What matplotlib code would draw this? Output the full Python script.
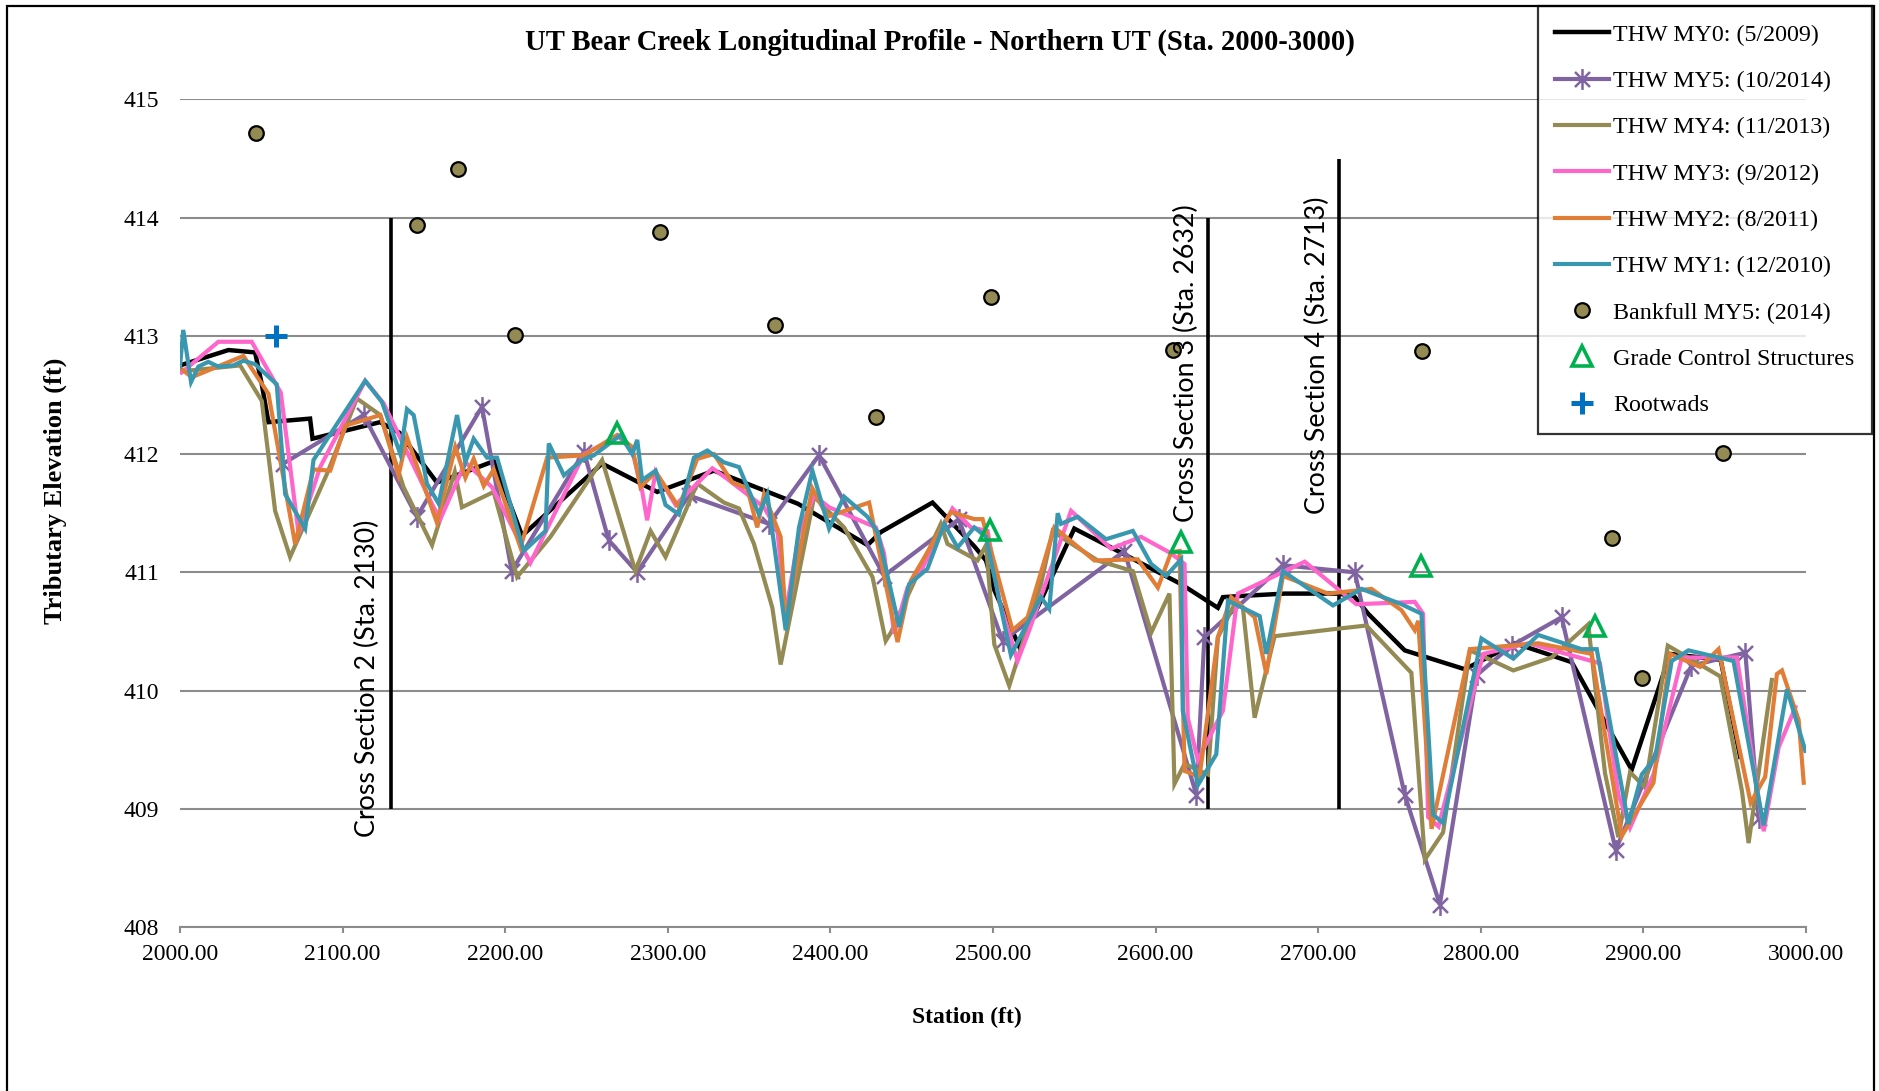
import matplotlib
matplotlib.use('Agg')
import matplotlib.pyplot as plt
from matplotlib.path import Path
from matplotlib.patches import Rectangle

# ---------------- DATA ----------------
my0_sta = [2000, 2029.8, 2046.2, 2050.3, 2054.4, 2080, 2081.5, 2123, 2135, 2158, 2170, 2193, 2210.4,
           2259.6, 2293.5, 2328.4, 2380, 2422.8, 2431, 2462.8, 2488.5, 2495.7, 2500.8, 2516.2, 2550,
           2572.6, 2615.7, 2638.3, 2641.4, 2652.7, 2679.4, 2712, 2722, 2730.7, 2753.2, 2790.2, 2821,
           2855.9, 2892.8, 2916.4, 2947.5, 2959.5]
my0_elev = [412.75, 412.88, 412.86, 412.59, 412.27, 412.30, 412.13, 412.27, 412.18, 411.76, 411.82, 411.94, 411.31,
            411.92, 411.68, 411.86, 411.58, 411.23, 411.34, 411.59, 411.22, 411.10, 410.85, 410.37, 411.37,
            411.21, 410.90, 410.70, 410.79, 410.80, 410.82, 410.82, 410.80, 410.65, 410.34, 410.18, 410.40,
            410.24, 409.33, 410.31, 410.26, 409.44]

my5_sta = [2063.6, 2112.9, 2145.7, 2185.7, 2204, 2248.4, 2263.7, 2281.2, 2313, 2362.2, 2393, 2433,
           2479, 2505.9, 2580.8, 2625, 2630, 2678.3, 2722.5, 2753.2, 2774.8, 2797.4, 2818.9, 2849.7,
           2883, 2929.5, 2962.7, 2970.9]
my5_elev = [411.92, 412.33, 411.47, 412.40, 411.01, 412.02, 411.27, 411.00, 411.65, 411.41, 411.99, 410.97,
            411.45, 410.42, 411.18, 409.12, 410.45, 411.06, 411.00, 409.12, 408.19, 410.13, 410.38, 410.62,
            408.65, 410.21, 410.32, 408.92]

my4_sta = [2001, 2037, 2050.3, 2058.5, 2067.7, 2090.3, 2108.8, 2123.2, 2137.5, 2155, 2169, 2173.4, 2192.9,
           2207.3, 2227.8, 2259.6, 2280.1, 2289.4, 2298.6, 2318.1, 2334.5, 2343.8, 2353, 2364.3, 2369.4,
           2390, 2408.4, 2425.9, 2434, 2437.2, 2467.9, 2472, 2490.5, 2495.7, 2500.8, 2510, 2529.5, 2536.7,
           2543.9, 2564.4, 2586, 2597.3, 2608.5, 2611.6, 2617.8, 2632.2, 2638.3, 2649.6, 2653.7, 2660.9,
           2673.2, 2710.1, 2729.6, 2757.3, 2765.6, 2776.8, 2793.3, 2820, 2843.6, 2866.1, 2867.2, 2876.4,
           2884.6, 2891.8, 2901, 2915, 2947.2, 2960.6, 2964.7, 2979]
my4_elev = [412.70, 412.75, 412.45, 411.52, 411.13, 411.83, 412.47, 412.33, 411.72, 411.23, 411.85, 411.55, 411.68,
            410.96, 411.30, 411.95, 411.01, 411.35, 411.13, 411.75, 411.59, 411.54, 411.24, 410.70, 410.22,
            411.64, 411.38, 410.96, 410.42, 410.49, 411.41, 411.24, 411.10, 411.23, 410.39, 410.04, 410.90, 411.35,
            411.28, 411.10, 411.01, 410.49, 410.82, 409.21, 409.38, 409.29, 410.45, 410.76, 410.70, 409.77,
            410.46, 410.52, 410.55, 410.15, 408.57, 408.80, 410.34, 410.17, 410.28, 410.56, 410.42, 409.30,
            408.76, 409.31, 409.18, 410.38, 410.12, 409.15, 408.71, 410.09]

my3_sta = [2001, 2023.6, 2044.1, 2062, 2072.9, 2086.2, 2113.9, 2125.2, 2156, 2160.1, 2175.5, 2191.9, 2215.5,
           2248.4, 2258.6, 2268.9, 2278.1, 2284.2, 2287.3, 2292.5, 2304.8, 2327.4, 2336.6, 2359.2, 2367.4,
           2372.5, 2380.7, 2390, 2399.2, 2428, 2433, 2439.2, 2447.4, 2455.6, 2475.1, 2486.4, 2496.7, 2503.9,
           2515.1, 2522.3, 2548, 2572.6, 2591.1, 2609.6, 2617.8, 2619.8, 2626, 2641.4, 2650.6, 2691.7,
           2723.5, 2759.4, 2764.5, 2767.6, 2774, 2801.5, 2829.2, 2873.3, 2884.6, 2891.8, 2906.2, 2923.6,
           2957.5, 2974, 2983.2, 2993.5]
my3_elev = [412.69, 412.95, 412.95, 412.52, 411.33, 411.89, 412.62, 412.43, 411.55, 411.45, 411.93, 411.72, 411.08,
            412.00, 412.07, 412.16, 412.03, 411.69, 411.44, 411.85, 411.57, 411.88, 411.79, 411.55, 411.35,
            410.65, 411.33, 411.65, 411.55, 411.38, 411.16, 410.48, 410.87, 411.01, 411.54, 411.38, 411.35, 410.76,
            410.25, 410.51, 411.52, 411.20, 411.30, 411.16, 411.07, 409.77, 409.41, 409.83, 410.82, 411.09,
            410.73, 410.75, 410.65, 408.93, 408.85, 410.31, 410.40, 410.23, 409.12, 408.84, 409.29, 410.28,
            410.28, 408.81, 409.52, 409.86]

my2_sta = [2001, 2007.2, 2039, 2054.4, 2070.8, 2082.1, 2092.4, 2101.6, 2123.2, 2134.4, 2139.6, 2158, 2169.3,
           2175.5, 2180.6, 2186.8, 2192.9, 2209.4, 2225.8, 2248.4, 2268.9, 2278.1, 2283.2, 2292.5, 2306.8,
           2318.1, 2328.4, 2339.7, 2348.9, 2355, 2359.2, 2369.4, 2372.5, 2388.9, 2398.2, 2423.8, 2441.3,
           2449.5, 2474.1, 2488.5, 2493.6, 2512, 2521.3, 2537.7, 2562.4, 2589, 2601.4, 2609.6, 2614.7,
           2617.8, 2627, 2638.3, 2646.5, 2660.9, 2668.1, 2678.3, 2706, 2732.7, 2751.2, 2759.4, 2761.5,
           2769.7, 2793.3, 2835.3, 2868.2, 2886.7, 2906.2, 2916.4, 2934.9, 2946.2, 2966, 2974.9, 2982.1,
           2985.2, 2995.5, 2998.6]
my2_elev = [412.72, 412.65, 412.83, 412.51, 411.24, 411.87, 411.86, 412.24, 412.33, 411.82, 412.14, 411.42, 412.06,
            411.80, 411.96, 411.73, 411.87, 411.21, 411.97, 411.99, 412.16, 412.06, 411.72, 411.85, 411.55,
            411.96, 412.00, 411.76, 411.71, 411.38, 411.66, 411.30, 410.59, 411.71, 411.47, 411.59, 410.41,
            410.93, 411.51, 411.45, 411.45, 410.51, 410.62, 411.38, 411.10, 411.11, 410.87, 411.17, 411.18,
            409.32, 409.27, 410.45, 410.79, 410.62, 410.14, 410.97, 410.82, 410.86, 410.68, 410.51, 410.59,
            408.83, 410.35, 410.40, 410.31, 408.77, 409.22, 410.31, 410.20, 410.35, 409.05, 409.27, 410.14,
            410.17, 409.75, 409.22]

my1_sta = [2000, 2002, 2006.8, 2011.3, 2017.4, 2023.6, 2032.8, 2039, 2046.2, 2059.5, 2064.7, 2077, 2082.1,
           2094.4, 2113.9, 2124.2, 2135.5, 2139.6, 2143.7, 2151.9, 2159.1, 2170.4, 2175.5, 2180.6, 2188.8,
           2195, 2211.4, 2224.8, 2226.8, 2236.1, 2247.3, 2254.5, 2270.9, 2278.1, 2281.2, 2284.2, 2292.5,
           2298.6, 2306.8, 2316.1, 2324.3, 2334.5, 2343.8, 2356.1, 2361.2, 2372.5, 2380.7, 2388.9, 2399.2,
           2408.4, 2422.8, 2429, 2442.3, 2448.4, 2459.7, 2470, 2478.2, 2488.5, 2495.7, 2511, 2529.5, 2534.6,
           2539.8, 2541.8, 2552.1, 2569.5, 2586, 2597.3, 2606.5, 2615.7, 2616.7, 2626, 2637.3, 2644.5,
           2664, 2668.1, 2678.3, 2709.1, 2726.6, 2751.2, 2763.5, 2770.7, 2776.8, 2800.4, 2820, 2835.3,
           2862, 2871.3, 2890.8, 2899, 2907.2, 2917.4, 2927.7, 2955.4, 2973.9, 2988.3, 2999.6]
my1_elev = [412.74, 413.05, 412.61, 412.74, 412.78, 412.74, 412.75, 412.79, 412.76, 412.59, 411.66, 411.37, 411.95,
            412.21, 412.62, 412.44, 412.00, 412.38, 412.33, 411.75, 411.58, 412.33, 411.93, 412.13, 411.97,
            411.97, 411.18, 411.35, 412.09, 411.82, 411.95, 411.99, 412.16, 412.00, 412.12, 411.78, 411.86,
            411.57, 411.49, 411.97, 412.03, 411.93, 411.89, 411.49, 411.66, 410.51, 411.38, 411.86, 411.37,
            411.64, 411.47, 411.34, 410.54, 410.90, 411.03, 411.41, 411.21, 411.38, 411.30, 410.30, 410.79, 410.69,
            411.50, 411.41, 411.47, 411.28, 411.35, 411.07, 410.97, 411.11, 409.83, 409.20, 409.46, 410.76,
            410.63, 410.31, 411.01, 410.72, 410.86, 410.73, 410.65, 408.95, 408.88, 410.44, 410.27, 410.47,
            410.35, 410.35, 408.87, 409.29, 409.43, 410.25, 410.34, 410.25, 408.86, 410.01, 409.49]

bankfull_sta = [2046.5, 2145.5, 2171, 2206.3, 2295, 2366, 2428, 2498.5, 2610.6, 2764, 2880.5, 2899, 2949]
bankfull_elev = [414.72, 413.94, 414.41, 413.01, 413.88, 413.09, 412.31, 413.33, 412.88, 412.87, 411.29, 410.11, 412.01]

grade_sta = [2269, 2498, 2615.5, 2763.2, 2870]
grade_elev = [412.18, 411.36, 411.26, 411.05, 410.55]

rootwad_sta = [2059]
rootwad_elev = [413.0]

cs_names = ["Cross Section 2 (Sta. 2130)", "Cross Section 3 (Sta. 2632)", "Cross Section 4 (Sta. 2713)"]
cs_sta = [2130, 2632, 2713]
cs_bottom = [409, 409, 409]
cs_top = [414, 414, 414.5]

series_labels = ["THW MY0: (5/2009)", "THW MY5: (10/2014)", "THW MY4: (11/2013)",
                 "THW MY3: (9/2012)", "THW MY2: (8/2011)", "THW MY1: (12/2010)"]
x_ticks = [2000, 2100, 2200, 2300, 2400, 2500, 2600, 2700, 2800, 2900, 3000]
y_ticks = [408, 409, 410, 411, 412, 413, 414, 415]

# ---------------- STYLE ----------------
W, H = 1879, 1091
SERIF = ['Liberation Serif', 'DejaVu Serif']
colors = ['#000000', '#8064A2', '#948A54', '#FF66CC', '#E07E38', '#3A97B0']
GRID = '#8C8C8C'

fig = plt.figure(figsize=(W / 100, H / 100), dpi=100)
ax = fig.add_axes([180 / W, 1 - 927 / H, (1806 - 180) / W, (927 - 99.4) / H])
ax.set_xlim(2000, 3000)
ax.set_ylim(408, 415)

star = Path([(0, -1), (0, 1), (-0.72, -0.72), (0.72, 0.72), (-0.72, 0.72), (0.72, -0.72)],
            [Path.MOVETO, Path.LINETO] * 3)

all_sta = [my0_sta, my5_sta, my4_sta, my3_sta, my2_sta, my1_sta]
all_elev = [my0_elev, my5_elev, my4_elev, my3_elev, my2_elev, my1_elev]
for i, (s, e) in enumerate(zip(all_sta, all_elev)):
    kw = dict(color=colors[i], lw=3.2 if i == 0 else 3.0, label=series_labels[i], zorder=3 + i * 0.1,
              solid_joinstyle='miter')
    if i == 1:
        kw.update(marker=star, markersize=15, markeredgewidth=1.8, markeredgecolor=colors[1],
                  markerfacecolor='none')
    ax.plot(s, e, **kw)

ax.plot(bankfull_sta, bankfull_elev, ls='none', marker='o', markersize=10.5, markerfacecolor='#948A54',
        markeredgecolor='#000000', markeredgewidth=1.6, label='Bankfull MY5: (2014)', zorder=5)
ax.plot(grade_sta, grade_elev, ls='none', marker='^', markersize=15, markerfacecolor='none',
        markeredgecolor='#00B050', markeredgewidth=2.6, label='Grade Control Structures', zorder=5)
ax.plot(rootwad_sta, rootwad_elev, ls='none', marker='+', markersize=16, markeredgecolor='#0070C0',
        markeredgewidth=3.6, label='Rootwads', zorder=5)

# cross-section lines and labels
ax.vlines(cs_sta, cs_bottom, cs_top, colors='black', lw=2.6, zorder=2.5)
cs_label_dx = [-14.5, -13, -13.5]
cs_label_y = [410.10, 412.77, 412.84]
for name, s, dx, ly in zip(cs_names, cs_sta, cs_label_dx, cs_label_y):
    ax.text(s + dx, ly, name, rotation=90, ha='center', va='center', fontsize=19.3,
            family=['Lato', 'DejaVu Sans'], color='black', zorder=6)

# axes styling
ax.set_xticks(x_ticks)
ax.set_xticklabels([f"{v:.2f}" for v in x_ticks])
ax.set_yticks(y_ticks)
ax.set_yticklabels([str(v) for v in y_ticks])
ax.yaxis.grid(True, color=GRID, lw=1.5)
ax.set_axisbelow(True)
for sp in ['top', 'right', 'left']:
    ax.spines[sp].set_visible(False)
ax.spines['bottom'].set_color(GRID)
ax.spines['bottom'].set_linewidth(1.5)
ax.tick_params(axis='x', direction='out', length=4.5, width=1.5, color=GRID, pad=8, labelsize=17)
ax.tick_params(axis='y', length=0, pad=15, labelsize=17)
for lab in ax.get_xticklabels() + ax.get_yticklabels():
    lab.set_family(SERIF)

# titles
fig.text(940 / W, 1 - 42 / H, "UT Bear Creek Longitudinal Profile - Northern UT (Sta. 2000-3000)",
         ha='center', va='center', fontsize=20.6, fontweight='bold', family=SERIF)
fig.text(55 / W, 1 - 491 / H, "Tributary Elevation (ft)", rotation=90, ha='center', va='center',
         fontsize=19, fontweight='bold', family=SERIF)
fig.text(967 / W, 1 - 1017 / H, "Station (ft)", ha='center', va='center',
         fontsize=17, fontweight='bold', family=SERIF)

# legend
leg = ax.legend(loc='upper right', bbox_to_anchor=(1872 / W, 1 - 6 / H), bbox_transform=fig.transFigure,
                borderaxespad=0, frameon=True, fancybox=False, numpoints=1, handlelength=2.25,
                handletextpad=0.15, labelspacing=1.02, borderpad=0.74,
                prop={'family': SERIF, 'size': 17.3})
leg.get_frame().set_edgecolor('black')
leg.get_frame().set_linewidth(1.6)
leg.set_zorder(10)

# outer border of the chart area
fig.patches.append(Rectangle((7 / W, -0.05), (1874 - 7) / W, 1.05 - 6 / H, transform=fig.transFigure,
                             fill=False, edgecolor='black', lw=1.6))

fig.savefig('out.png', dpi=100)
